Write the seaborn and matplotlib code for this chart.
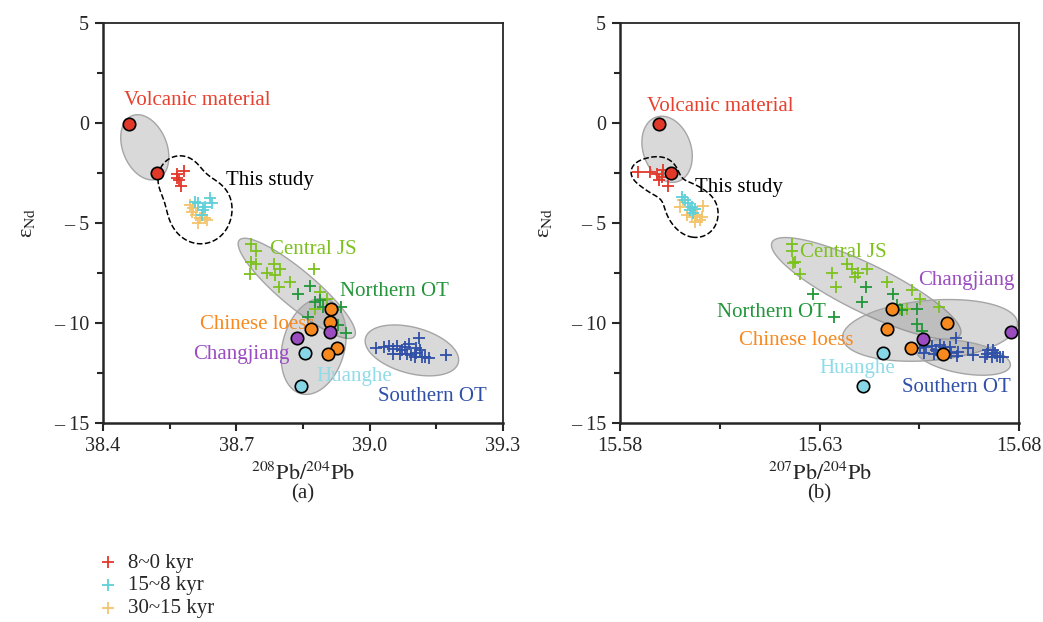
import numpy as np
import seaborn as sns
import matplotlib.pyplot as plt


# ---------------------------
# Data  (panel a: 208Pb/204Pb, panel b: 207Pb/204Pb, y = eNd)
# ---------------------------

# panel a
a_vol_x = [38.459, 38.522]
a_vol_y = [-0.07, -2.5]
a_8_0_x = [38.567, 38.582, 38.571, 38.576, 38.567]
a_8_0_y = [-2.57, -2.42, -2.87, -3.17, -2.77]
a_15_8_x = [38.607, 38.641, 38.645, 38.630, 38.625, 38.614, 38.623]
a_15_8_y = [-3.97, -3.77, -4.02, -4.22, -4.37, -4.02, -4.62]
a_30_15_x = [38.596, 38.603, 38.609, 38.618, 38.614, 38.630, 38.634, 38.600]
a_30_15_y = [-4.12, -4.27, -4.62, -4.77, -5.02, -4.77, -4.87, -4.47]
a_cjs_x = [38.732, 38.744, 38.734, 38.745, 38.730, 38.768, 38.784, 38.786,
           38.799, 38.796, 38.820, 38.874, 38.888, 38.903, 38.876]
a_cjs_y = [-6.07, -6.4, -6.95, -7.03, -7.53, -7.5, -7.03, -7.6,
           -7.28, -8.2, -7.95, -7.28, -8.45, -8.78, -9.3]
a_not_x = [38.839, 38.865, 38.888, 38.876, 38.861, 38.895, 38.929, 38.946, 38.936, 38.918]
a_not_y = [-8.57, -8.17, -8.87, -8.95, -9.7, -9.2, -10.1, -10.5, -9.2, -9.33]
a_loess_x = [38.914, 38.910, 38.867, 38.927, 38.906]
a_loess_y = [-9.28, -9.95, -10.28, -11.23, -11.57]
a_cj_x = [38.837, 38.910]
a_cj_y = [-10.73, -10.45]
a_hh_x = [38.854, 38.845]
a_hh_y = [-11.48, -13.15]
a_sot_x = [39.014, 39.032, 39.044, 39.053, 39.062, 39.072, 39.079, 39.089, 39.111, 39.053,
           39.068, 39.094, 39.105, 39.113, 39.117, 39.124, 39.134, 39.101, 39.171, 39.083, 39.105]
a_sot_y = [-11.23, -11.2, -11.17, -11.28, -11.17, -11.33, -11.2, -11.03, -10.73, -11.53,
           -11.53, -11.62, -11.5, -11.37, -11.7, -11.7, -11.73, -11.7, -11.62, -11.53, -11.23]

# panel b
b_vol_x = [15.5898, 15.5928]
b_vol_y = [-0.07, -2.5]
b_8_0_x = [15.5846, 15.5875, 15.5892, 15.5905, 15.5898, 15.5921, 15.5909]
b_8_0_y = [-2.45, -2.45, -2.57, -2.7, -2.87, -3.17, -2.37]
b_15_8_x = [15.5955, 15.5963, 15.5971, 15.5980, 15.5988, 15.5984, 15.5975]
b_15_8_y = [-3.7, -3.87, -4.0, -4.2, -4.28, -4.5, -4.37]
b_30_15_x = [15.5950, 15.5967, 15.5980, 15.5992, 15.6005, 15.6009, 15.5988, 15.6000, 15.5959]
b_30_15_y = [-4.2, -4.62, -4.7, -4.62, -4.7, -4.17, -4.95, -4.87, -3.87]
b_cjs_x = [15.6230, 15.6230, 15.6233, 15.6239, 15.6251, 15.6331, 15.6341, 15.6370, 15.6381,
           15.6397, 15.6389, 15.6420, 15.6470, 15.6531, 15.6552, 15.6519, 15.6600, 15.6502]
b_cjs_y = [-6.07, -6.4, -7.0, -6.95, -7.57, -7.5, -8.2, -7.07, -7.28,
           -7.5, -7.7, -7.28, -7.95, -8.37, -8.78, -9.28, -9.2, -9.28]
b_not_x = [15.6284, 15.6336, 15.6406, 15.6417, 15.6485, 15.6495, 15.6545, 15.6545, 15.6556, 15.6506]
b_not_y = [-8.57, -9.7, -8.95, -8.2, -8.57, -9.12, -9.28, -10.07, -10.4, -9.37]
b_loess_x = [15.6481, 15.6620, 15.6468, 15.6529, 15.6609]
b_loess_y = [-9.28, -9.98, -10.28, -11.25, -11.57]
b_cj_x = [15.6559, 15.6780]
b_cj_y = [-10.78, -10.45]
b_hh_x = [15.6460, 15.6410]
b_hh_y = [-11.48, -13.15]
b_sot_x = [15.6552, 15.6567, 15.6581, 15.6592, 15.6602, 15.6612, 15.6627, 15.6642, 15.6562, 15.6587,
           15.6629, 15.6644, 15.6648, 15.6673, 15.6685, 15.6715, 15.6723, 15.6732, 15.6740, 15.6744,
           15.6752, 15.6761, 15.6736, 15.6719]
b_sot_y = [-11.25, -11.2, -11.17, -11.33, -11.12, -11.2, -11.2, -10.73, -11.5, -11.53,
           -11.5, -11.67, -11.45, -11.25, -11.62, -11.7, -11.33, -11.7, -11.5, -11.67,
           -11.7, -11.7, -11.37, -11.53]

# field ellipses: centre (data), semi axes (px of a 400px box), angle (deg)
ell_a = [(38.494, -1.215, 34, 22, -68), (38.836, -8.27, 75, 18, -40),
         (38.874, -11.17, 49, 31, 75), (39.095, -11.37, 48, 23, -15)]
ell_b = [(15.5918, -1.315, 34, 24, -71), (15.6417, -8.27, 105, 24, -26),
         (15.6577, -10.37, 88, 30, 5), (15.666, -11.72, 48, 16, -10)]

legend_labels = ["8~0 kyr", "15~8 kyr", "30~15 kyr"]

# ---------------------------
# Style
# ---------------------------

sns.set_style("ticks")
plt.rcParams['font.family'] = ['Liberation Serif', 'DejaVu Serif']
plt.rcParams['mathtext.fontset'] = 'stix'

RED = "#e2382a"
CYAN = "#5fd0d8"
YELLOW = "#f3c46b"
LGREEN = "#7cc11e"
DGREEN = "#22963a"
ORANGE = "#f7891e"
PURPLE = "#9b4cc0"
LCYAN = "#86d6e6"
BLUE = "#3050a8"
FS = 15
TFS = 14.5


def draw_ellipse(ax, cx, cy, a, b, ang):
    x0, x1 = ax.get_xlim()
    y0, y1 = ax.get_ylim()
    t = np.linspace(0, 2 * np.pi, 200)
    th = np.radians(ang)
    u = (a * np.cos(t) * np.cos(th) - b * np.sin(t) * np.sin(th)) / 400
    v = (a * np.cos(t) * np.sin(th) + b * np.sin(t) * np.cos(th)) / 400
    ax.fill(cx + u * (x1 - x0), cy + v * (y1 - y0),
            facecolor=(0.49, 0.49, 0.49, 0.29), edgecolor="#a5a5a5", lw=1, zorder=1)


def study_outline(ax, xs, ys, sigma, level):
    # dashed line round the samples of this study (smoothed density contour)
    x0, x1 = ax.get_xlim()
    y0, y1 = ax.get_ylim()
    u = (np.asarray(xs) - x0) / (x1 - x0)
    v = (np.asarray(ys) - y0) / (y1 - y0)
    gu, gv = np.meshgrid(np.linspace(0, 1, 500), np.linspace(0, 1, 500))
    f = np.zeros_like(gu)
    for ui, vi in zip(u, v):
        f += np.exp(-((gu - ui) ** 2 + (gv - vi) ** 2) / (2 * sigma ** 2))
    ax.contour(x0 + gu * (x1 - x0), y0 + gv * (y1 - y0), f, levels=[level],
               colors="black", linestyles="dashed", linewidths=1.1, zorder=2)


def crosses(ax, x, y, color, label=None):
    sns.scatterplot(x=x, y=y, ax=ax, marker="+", color=color, s=75,
                    linewidth=1.3, zorder=3, label=label)


def dots(ax, x, y, color):
    sns.scatterplot(x=x, y=y, ax=ax, marker="o", color=color, edgecolor="black",
                    s=80, linewidth=1.2, zorder=4)


def style_axes(ax, xticks, xlabels, xminor, xlabel):
    ax.set_ylim(-15, 5)
    ax.set_xticks(xticks, labels=xlabels)
    ax.set_xticks(xminor, minor=True)
    ax.set_yticks([5, 0, -5, -10, -15], labels=["5", "0", "– 5", "– 10", "– 15"])
    ax.set_yticks([2.5, -2.5, -7.5, -12.5], minor=True)
    ax.tick_params(which="major", direction="out", length=6, width=1.5, labelsize=TFS, pad=4)
    ax.tick_params(which="minor", direction="out", length=4, width=1.5)
    for s in ["left", "bottom"]:
        ax.spines[s].set_linewidth(1.8)
    for s in ["top", "right"]:
        ax.spines[s].set_linewidth(1.3)
    ax.set_xlabel(xlabel, fontsize=FS + 1, labelpad=5)
    ax.set_ylabel("ε$_{\\rm Nd}$", fontsize=FS + 1, labelpad=12)


fig = plt.figure(figsize=(10.43, 6.22), dpi=100)
ax_a = fig.add_axes([103 / 1043, 199 / 622, 400 / 1043, 400 / 622])
ax_b = fig.add_axes([620 / 1043, 199 / 622, 399 / 1043, 400 / 622])

# ---------------------------
# Panel (a)
# ---------------------------

ax_a.set_xlim(38.4, 39.3)
style_axes(ax_a, [38.4, 38.7, 39.0, 39.3], ["38.4", "38.7", "39.0", "39.3"],
           [38.55, 38.85, 39.15], "$^{208}\\mathrm{Pb}/^{204}\\mathrm{Pb}$")
for e in ell_a:
    draw_ellipse(ax_a, *e)
study_outline(ax_a, a_8_0_x + a_15_8_x + a_30_15_x,
              a_8_0_y + a_15_8_y + a_30_15_y, 0.036, 1.6)

crosses(ax_a, a_cjs_x, a_cjs_y, LGREEN)
crosses(ax_a, a_not_x, a_not_y, DGREEN)
crosses(ax_a, a_sot_x, a_sot_y, BLUE)
crosses(ax_a, a_30_15_x, a_30_15_y, YELLOW, legend_labels[2])
crosses(ax_a, a_15_8_x, a_15_8_y, CYAN, legend_labels[1])
crosses(ax_a, a_8_0_x, a_8_0_y, RED, legend_labels[0])
dots(ax_a, a_vol_x, a_vol_y, RED)
dots(ax_a, a_loess_x, a_loess_y, ORANGE)
dots(ax_a, a_cj_x, a_cj_y, PURPLE)
dots(ax_a, a_hh_x, a_hh_y, LCYAN)

ax_a.text(38.611, 1.13, "Volcanic material", color="#e8402e", fontsize=FS, ha="center", va="center")
ax_a.text(38.676, -2.87, "This study", color="black", fontsize=FS, va="center")
ax_a.text(38.775, -6.32, "Central JS", color=LGREEN, fontsize=FS, va="center")
ax_a.text(38.933, -8.43, "Northern OT", color=DGREEN, fontsize=FS, va="center")
ax_a.text(38.876, -10.07, "Chinese loess", color=ORANGE, fontsize=FS, ha="right", va="center")
ax_a.text(38.820, -11.6, "Changjiang", color=PURPLE, fontsize=FS, ha="right", va="center")
ax_a.text(38.881, -12.67, "Huanghe", color="#8fdbe8", fontsize=FS, va="center")
ax_a.text(39.018, -13.67, "Southern OT", color=BLUE, fontsize=FS, va="center")

# ---------------------------
# Panel (b)
# ---------------------------

ax_b.set_xlim(15.58, 15.68)
style_axes(ax_b, [15.58, 15.63, 15.68], ["15.58", "15.63", "15.68"],
           [15.605, 15.655], "$^{207}\\mathrm{Pb}/^{204}\\mathrm{Pb}$")
for e in ell_b:
    draw_ellipse(ax_b, *e)
study_outline(ax_b, b_8_0_x + b_15_8_x + b_30_15_x,
              b_8_0_y + b_15_8_y + b_30_15_y, 0.025, 1.0)

crosses(ax_b, b_cjs_x, b_cjs_y, LGREEN)
crosses(ax_b, b_not_x, b_not_y, DGREEN)
crosses(ax_b, b_sot_x, b_sot_y, BLUE)
crosses(ax_b, b_30_15_x, b_30_15_y, YELLOW)
crosses(ax_b, b_15_8_x, b_15_8_y, CYAN)
crosses(ax_b, b_8_0_x, b_8_0_y, RED)
dots(ax_b, b_vol_x, b_vol_y, RED)
dots(ax_b, b_loess_x, b_loess_y, ORANGE)
dots(ax_b, b_cj_x, b_cj_y, PURPLE)
dots(ax_b, b_hh_x, b_hh_y, LCYAN)

ax_b.text(15.6051, 0.83, "Volcanic material", color="#e8402e", fontsize=FS, ha="center", va="center")
ax_b.text(15.5988, -3.22, "This study", color="black", fontsize=FS, va="center")
ax_b.text(15.6251, -6.47, "Central JS", color=LGREEN, fontsize=FS, va="center")
ax_b.text(15.6547, -7.87, "Changjiang", color=PURPLE, fontsize=FS, va="center")
ax_b.text(15.6316, -9.47, "Northern OT", color=DGREEN, fontsize=FS, ha="right", va="center")
ax_b.text(15.6384, -10.87, "Chinese loess", color=ORANGE, fontsize=FS, ha="right", va="center")
ax_b.text(15.6299, -12.27, "Huanghe", color="#8fdbe8", fontsize=FS, va="center")
ax_b.text(15.6507, -13.22, "Southern OT", color=BLUE, fontsize=FS, va="center")

for ax in (ax_a, ax_b):
    if ax.get_legend() is not None:
        ax.get_legend().remove()

# ---------------------------
# Captions and legend
# ---------------------------

fig.text(303 / 1043, 1 - 494 / 622, "(a)", fontsize=FS, ha="center", va="center")
fig.text(819 / 1043, 1 - 494 / 622, "(b)", fontsize=FS, ha="center", va="center")

handles, labels = ax_a.get_legend_handles_labels()
order = [labels.index(l) for l in legend_labels]
fig.legend([handles[i] for i in order], legend_labels, loc="upper left",
           bbox_to_anchor=(98 / 1043, 1 - 553 / 622), frameon=False, fontsize=FS,
           handlelength=1, handletextpad=0.45, labelspacing=0.15,
           borderpad=0, borderaxespad=0)

fig.savefig("out.png", dpi=100)
